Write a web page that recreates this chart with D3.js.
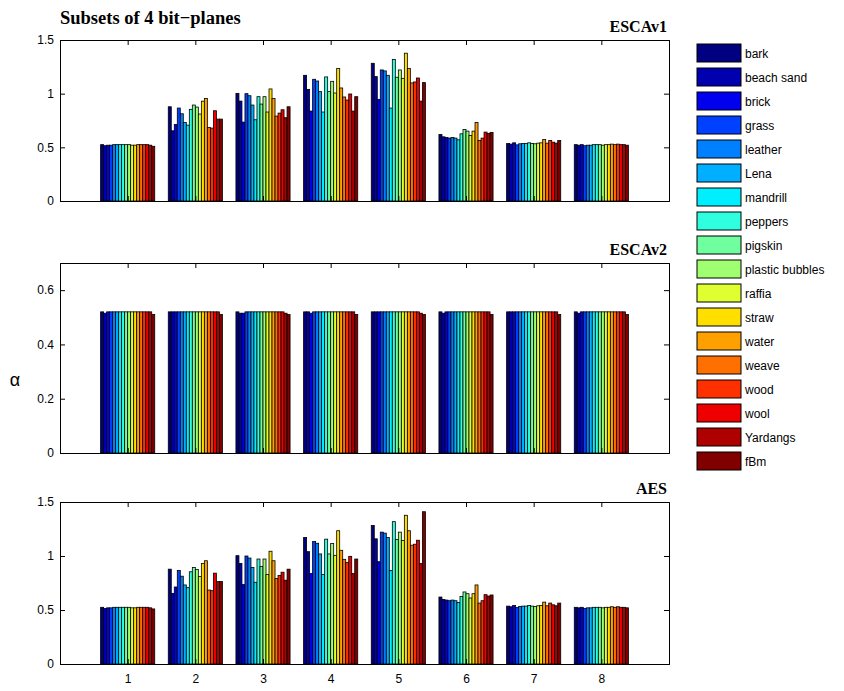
<!DOCTYPE html>
<html><head><meta charset="utf-8">
<script src="https://cdn.jsdelivr.net/npm/d3@7"></script>
<style>
body{margin:0;background:#fff;}
svg{display:block;}
.tick text{font-family:"Liberation Sans",Arial,sans-serif;font-size:12px;fill:#000;}
</style></head>
<body>
<script>
const series = ["bark","beach sand","brick","grass","leather","Lena","mandrill","peppers","pigskin","plastic bubbles","raffia","straw","water","weave","wood","wool","Yardangs","fBm"];
const groups = [1,2,3,4,5,6,7,8];
const colors = ["#000080","#0000af","#0000ef","#0040ff","#0080ff","#00afff","#00efff","#30ffdf","#70ff9f","#9fff70","#dfff30","#ffdf00","#ff9f00","#ff7000","#ff3000","#ef0000","#af0000","#800000"];

// ESCAv1: one row per group, 18 values (series order)
const escav1 = [
 [0.525,0.515,0.52,0.52,0.525,0.525,0.525,0.525,0.525,0.525,0.52,0.52,0.525,0.525,0.525,0.525,0.52,0.51],
 [0.878,0.654,0.713,0.866,0.813,0.732,0.707,0.854,0.894,0.875,0.81,0.93,0.956,0.685,0.679,0.841,0.763,0.763],
 [1.003,0.931,0.735,1.0,0.981,0.894,0.757,0.972,0.903,0.972,0.829,1.044,0.956,0.791,0.819,0.85,0.776,0.878],
 [1.171,1.04,0.838,1.134,1.118,1.019,0.829,1.156,1.019,1.115,1.006,1.234,1.053,0.969,0.941,0.997,0.838,0.972],
 [1.283,1.159,0.947,1.221,1.212,1.171,0.866,1.318,1.153,1.221,1.143,1.377,1.234,1.1,1.109,1.146,0.931,1.103],
 [0.62,0.598,0.592,0.586,0.592,0.586,0.57,0.626,0.667,0.651,0.611,0.651,0.732,0.564,0.586,0.642,0.629,0.639],
 [0.536,0.53,0.542,0.523,0.533,0.536,0.536,0.542,0.536,0.533,0.539,0.542,0.573,0.539,0.564,0.548,0.539,0.564],
 [0.525,0.52,0.525,0.515,0.52,0.52,0.525,0.525,0.525,0.52,0.525,0.525,0.53,0.525,0.53,0.525,0.525,0.52]
];
const escav2 = [
 [0.52,0.515,0.52,0.52,0.52,0.52,0.52,0.52,0.52,0.52,0.52,0.52,0.52,0.52,0.52,0.52,0.52,0.51],
 [0.52,0.52,0.52,0.52,0.52,0.52,0.52,0.52,0.52,0.52,0.52,0.52,0.52,0.52,0.52,0.52,0.52,0.51],
 [0.52,0.515,0.515,0.52,0.52,0.52,0.52,0.52,0.52,0.52,0.52,0.52,0.52,0.52,0.52,0.52,0.515,0.51],
 [0.52,0.52,0.515,0.52,0.52,0.52,0.52,0.52,0.52,0.52,0.52,0.52,0.52,0.52,0.52,0.52,0.52,0.51],
 [0.52,0.52,0.52,0.52,0.52,0.52,0.52,0.52,0.52,0.52,0.52,0.52,0.52,0.52,0.52,0.52,0.515,0.51],
 [0.52,0.515,0.52,0.52,0.52,0.52,0.52,0.52,0.52,0.52,0.52,0.52,0.52,0.52,0.52,0.52,0.52,0.51],
 [0.52,0.52,0.52,0.52,0.52,0.52,0.52,0.52,0.52,0.52,0.52,0.52,0.52,0.52,0.52,0.52,0.52,0.51],
 [0.52,0.515,0.52,0.52,0.52,0.52,0.52,0.52,0.52,0.52,0.52,0.52,0.52,0.52,0.52,0.52,0.52,0.51]
];
const aes = [
 [0.525,0.515,0.52,0.52,0.525,0.525,0.525,0.525,0.525,0.525,0.52,0.52,0.525,0.525,0.525,0.525,0.52,0.51],
 [0.878,0.654,0.713,0.866,0.813,0.732,0.707,0.854,0.894,0.875,0.81,0.93,0.956,0.685,0.679,0.841,0.763,0.763],
 [1.003,0.931,0.735,1.0,0.981,0.894,0.757,0.972,0.903,0.972,0.829,1.044,0.956,0.791,0.819,0.85,0.776,0.878],
 [1.171,1.04,0.838,1.134,1.118,1.019,0.829,1.156,1.019,1.115,1.006,1.234,1.053,0.969,0.941,0.997,0.838,0.972],
 [1.283,1.159,0.947,1.221,1.212,1.171,0.866,1.318,1.153,1.221,1.143,1.377,1.234,1.1,1.109,1.146,0.931,1.41],
 [0.62,0.598,0.592,0.586,0.592,0.586,0.57,0.626,0.667,0.651,0.611,0.651,0.732,0.564,0.586,0.642,0.629,0.639],
 [0.536,0.53,0.542,0.523,0.533,0.536,0.536,0.542,0.536,0.533,0.539,0.542,0.573,0.539,0.564,0.548,0.539,0.564],
 [0.525,0.52,0.525,0.515,0.52,0.52,0.525,0.525,0.525,0.52,0.525,0.525,0.53,0.525,0.53,0.525,0.525,0.52]
];
const yTicks1 = [0,0.5,1,1.5];
const yTicks2 = [0,0.2,0.4,0.6];
const yTicks3 = [0,0.5,1,1.5];

const W=844,H=691;
const svg=d3.select("body").append("svg").attr("width",W).attr("height",H);
const x=d3.scaleLinear().domain([0,9]).range([60,669]);
const xs=d3.scaleBand().domain(series).range([-0.4,0.4]);
const bw=x(xs.bandwidth())-x(0);
const color=d3.scaleOrdinal().domain(series).range(colors);

const panels=[
 {data:escav1,ymax:1.5,top:40,bottom:201,ticks:yTicks1,title:"ESCAv1",xl:false},
 {data:escav2,ymax:0.7,top:263,bottom:453,ticks:yTicks2,title:"ESCAv2",xl:false},
 {data:aes,ymax:1.5,top:502,bottom:664,ticks:yTicks3,title:"AES",xl:true}
];
const serif='"Liberation Serif","Times New Roman",serif';
const sans='"Liberation Sans",Arial,sans-serif';

panels.forEach(p=>{
  const y=d3.scaleLinear().domain([0,p.ymax]).range([p.bottom,p.top]);
  const g=svg.append("g");
  const flat=[];
  p.data.forEach((row,gi)=>row.forEach((v,si)=>flat.push({g:groups[gi],s:series[si],v})));
  g.selectAll("rect.bar").data(flat).join("rect").attr("class","bar")
    .attr("x",d=>x(d.g+xs(d.s))).attr("width",bw)
    .attr("y",d=>y(d.v)).attr("height",d=>y(0)-y(d.v))
    .attr("fill",d=>color(d.s)).attr("stroke","#000").attr("stroke-width",0.8);
  const tl=5;
  const ax=g.append("g").attr("transform",`translate(0,${p.bottom})`)
    .call(d3.axisBottom(x).tickValues(groups).tickSize(-tl).tickPadding(8).tickFormat(p.xl?d3.format("d"):()=>""));
  const axt=g.append("g").attr("transform",`translate(0,${p.top})`)
    .call(d3.axisTop(x).tickValues(groups).tickSize(-tl).tickFormat(()=>""));
  const ayl=g.append("g").attr("transform",`translate(${x(0)},0)`)
    .call(d3.axisLeft(y).tickValues(p.ticks).tickSize(-tl).tickPadding(6).tickFormat(d3.format("")));
  const ayr=g.append("g").attr("transform",`translate(${x(9)},0)`)
    .call(d3.axisRight(y).tickValues(p.ticks).tickSize(-tl).tickFormat(()=>""));
  [ax,axt,ayl,ayr].forEach(a=>{a.select(".domain").attr("stroke","#000").attr("stroke-width",1);a.selectAll(".tick line").attr("stroke","#000");});
  ax.selectAll(".tick text").attr("dy","0.9em");
  g.append("text").attr("x",x(9)-2).attr("y",p.top-8).attr("text-anchor","end")
    .attr("font-family",serif).attr("font-weight","bold").attr("font-size",16).text(p.title);
});
svg.append("text").attr("x",60).attr("y",24).attr("font-family",serif).attr("font-weight","bold")
  .attr("font-size",18.5).text("Subsets of 4 bit\u2212planes");
svg.append("text").attr("x",15).attr("y",386).attr("text-anchor","middle").attr("font-family",sans)
  .attr("font-size",18).text("\u03b1");

const lg=svg.append("g");
series.forEach((s,i)=>{
  const yy=44+i*24;
  lg.append("rect").attr("x",697).attr("y",yy).attr("width",44).attr("height",18)
    .attr("fill",color(s)).attr("stroke","#000").attr("stroke-width",1);
  lg.append("text").attr("x",745).attr("y",yy+14).attr("font-family",sans).attr("font-size",12).text(s);
});
</script>
</body></html>
